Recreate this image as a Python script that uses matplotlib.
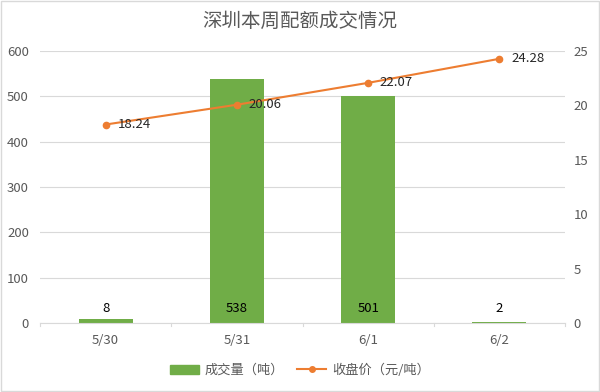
import matplotlib
matplotlib.use("Agg")
import matplotlib.pyplot as plt
from matplotlib.lines import Line2D
from matplotlib.patches import Patch

plt.rcParams['font.family'] = ['Noto Sans CJK SC', 'DejaVu Sans']

categories = ["5/30", "5/31", "6/1", "6/2"]
volume = [8, 538, 501, 2]
price = [18.24, 20.06, 22.07, 24.28]
title = "深圳本周配额成交情况"
bar_label = "成交量（吨）"
line_label = "收盘价（元/吨）"

bar_color = "#70AD47"
line_color = "#ED7D31"
text_color = "#595959"

fig = plt.figure(figsize=(6, 3.92), dpi=100)
ax = fig.add_axes([0.0667, 0.176, 0.875, 0.694])
x = list(range(len(categories)))
ax.bar(x, volume, width=0.41, color=bar_color, zorder=2)
ax.set_xlim(-0.5, len(categories) - 0.5)
ax.set_ylim(0, 600)
ax.set_yticks(range(0, 601, 100))
ax.set_xticks(x)
ax.set_xticklabels(categories)
ax.yaxis.grid(True, color="#D9D9D9", linewidth=0.8, zorder=0)
ax.set_axisbelow(True)
for s in ["top", "right", "left"]:
    ax.spines[s].set_visible(False)
ax.spines["bottom"].set_color("#D9D9D9")
ax.tick_params(axis="y", length=0, colors=text_color, labelsize=9.5, pad=8)
ax.tick_params(axis="x", length=0, colors=text_color, labelsize=9.5, pad=8)
# category separator ticks
for b in [i - 0.5 for i in range(len(categories) + 1)]:
    ax.plot([b, b], [0, -6], color="#D9D9D9", linewidth=0.8, clip_on=False)

for xi, v in zip(x, volume):
    ax.text(xi, 33, str(v), ha="center", va="center", fontsize=9.5, color="#000000", zorder=4)

ax2 = ax.twinx()
ax2.set_ylim(0, 25)
ax2.set_yticks(range(0, 26, 5))
for s in ["top", "right", "left", "bottom"]:
    ax2.spines[s].set_visible(False)
ax2.tick_params(axis="y", length=0, colors=text_color, labelsize=9.5, pad=6)
ax2.plot(x, price, color=line_color, marker="o", markersize=4.5, linewidth=1.5, zorder=5)
for xi, v in zip(x, price):
    ax2.text(xi + 0.09, v, f"{v:.2f}", ha="left", va="center", fontsize=9.5, color="#262626", zorder=6)

fig.text(0.5, 0.945, title, ha="center", va="center", fontsize=14, color=text_color)

handles = [Patch(facecolor=bar_color, edgecolor=bar_color),
           Line2D([0], [0], color=line_color, marker="o", markersize=4, linewidth=1.5)]
fig.legend(handles, [bar_label, line_label], loc="center", bbox_to_anchor=(0.5, 0.055),
           ncol=2, frameon=False, fontsize=9.5, labelcolor=text_color,
           handlelength=2.2, columnspacing=1.0, handletextpad=0.4)

border = plt.Rectangle((0.002, 0.002), 0.996, 0.996, transform=fig.transFigure,
                       fill=False, edgecolor="#D9D9D9", linewidth=1)
fig.patches.append(border)

fig.savefig("out.png", dpi=100)
